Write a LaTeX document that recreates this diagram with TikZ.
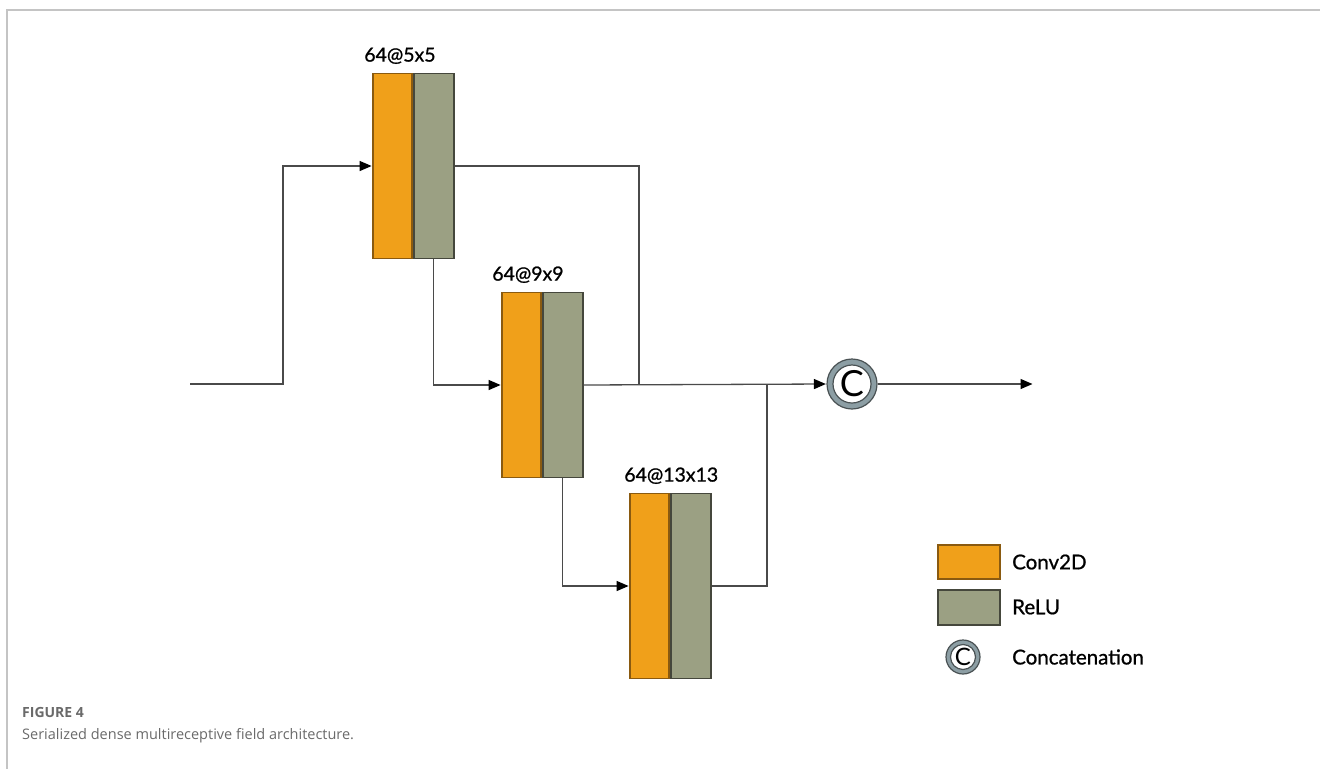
\documentclass[tikz,border=0pt]{standalone}
\usepackage{fontspec}
\setmainfont{Lato}[BoldFont=Lato, BoldFeatures={FakeBold=0.9}]
\newfontfamily\capfont{Open Sans}
\usetikzlibrary{arrows.meta,positioning}

\definecolor{convfill}{HTML}{F0A01A}
\definecolor{convedge}{HTML}{8A5A10}
\definecolor{relufill}{HTML}{9BA083}
\definecolor{reluedge}{HTML}{45473C}
\definecolor{wire}{HTML}{4A4A4A}
\definecolor{ringfill}{HTML}{8C9EA4}
\definecolor{ringedge}{HTML}{4A5254}
\definecolor{framegray}{HTML}{C4C4C4}
\definecolor{captext}{HTML}{6A6A6A}

\tikzset{
  conv/.style={draw=convedge, fill=convfill, line width=1.8pt,
    minimum width=39pt, minimum height=185pt, inner sep=0pt},
  relu/.style={draw=reluedge, fill=relufill, line width=1.8pt,
    minimum width=40pt, minimum height=185pt, inner sep=0pt},
  wireline/.style={draw=wire, line width=1.3pt},
  arrowline/.style={wireline, -{Triangle[length=12pt,width=10pt,fill=black,color=black]}, shorten >=0.5pt},
  lbl/.style={font=\bfseries\fontsize{19.5}{22}\selectfont, inner sep=0pt},
  legtext/.style={font=\bfseries\fontsize{20.5}{24}\selectfont, inner sep=0pt, anchor=west},
  ringout/.style={circle, draw=ringedge, fill=ringfill, line width=1.2pt, inner sep=0pt},
  ringin/.style={circle, draw=ringedge, fill=white, line width=1.2pt, inner sep=0pt},
}

\begin{document}
\begin{tikzpicture}[x=1pt, y=-1pt]
  \useasboundingbox (0,0) rectangle (1320,769);

  % page frame
  \draw[framegray, line width=1.5pt] (1320,10) -- (7,10) -- (7,769);

  % convolution blocks: Conv2D followed by ReLU
  \node[conv] (b1o) at (392.5,166) {};
  \node[relu, anchor=west] (b1g) at (b1o.east) {};
  \node[conv] (b2o) at (521.5,385) {};
  \node[relu, anchor=west] (b2g) at (b2o.east) {};
  \node[conv] (b3o) at (649.5,586) {};
  \node[relu, anchor=west] (b3g) at (b3o.east) {};

  \node[lbl, anchor=base west] (l1) at ([xshift=-8pt,yshift=11pt]b1o.north west) {64@5x5};
  \node[lbl, anchor=base west] (l2) at ([xshift=-9pt,yshift=11pt]b2o.north west) {64@9x9};
  \node[lbl, anchor=base west] (l3) at ([xshift=-5pt,yshift=11pt]b3o.north west) {64@13x13};

  % concatenation node
  \node[ringout, minimum size=50pt] (cat) at (852,384) {};
  \node[ringin, minimum size=38pt, font=\fontsize{36}{36}\selectfont] (catin) at (cat) {C};

  % wiring
  \coordinate (in) at (190,384);
  \coordinate (out) at (1033,384);
  \coordinate (j1) at (639,384);
  \coordinate (j3) at (767,384);

  \draw[arrowline] (in) -- ++(93,0) |- (b1o.west);
  \draw[wireline] (b1g.east) -| (j1);
  \draw[arrowline] (b1g.south) |- (b2o.west);
  \draw[arrowline] (b2g.east) -- (cat.west);
  \draw[arrowline] (b2g.south) |- (b3o.west);
  \draw[wireline] (b3g.east) -| (j3);
  \draw[arrowline] (cat.east) -- (out);

  % legend
  \node[draw=convedge, fill=convfill, line width=1.5pt, minimum width=62pt, minimum height=34pt, inner sep=0pt] (kc) at (969,562) {};
  \node[draw=reluedge, fill=relufill, line width=1.5pt, minimum width=62pt, minimum height=35pt, inner sep=0pt] (kr) at (969,607.5) {};
  \node[ringout, minimum size=34pt] (kcat) at (963,657) {};
  \node[ringin, minimum size=25pt, font=\fontsize{24}{24}\selectfont] (kcatin) at (kcat) {C};
  \node[legtext] (tc) at (1012,562) {Conv2D};
  \node[legtext] (tr) at (1012,607) {ReLU};
  \node[legtext] (tk) at (1012,657) {Concatenation};

  % caption
  \node[anchor=base west, inner sep=0pt, text=captext, font=\capfont\bfseries\fontsize{14}{16}\selectfont] (fig) at (22,717) {FIGURE 4};
  \node[anchor=base west, inner sep=0pt, text=captext, font=\capfont\fontsize{14.5}{17}\selectfont] (cap) at (22,739) {Serialized dense multireceptive field architecture.};
\end{tikzpicture}
\end{document}
